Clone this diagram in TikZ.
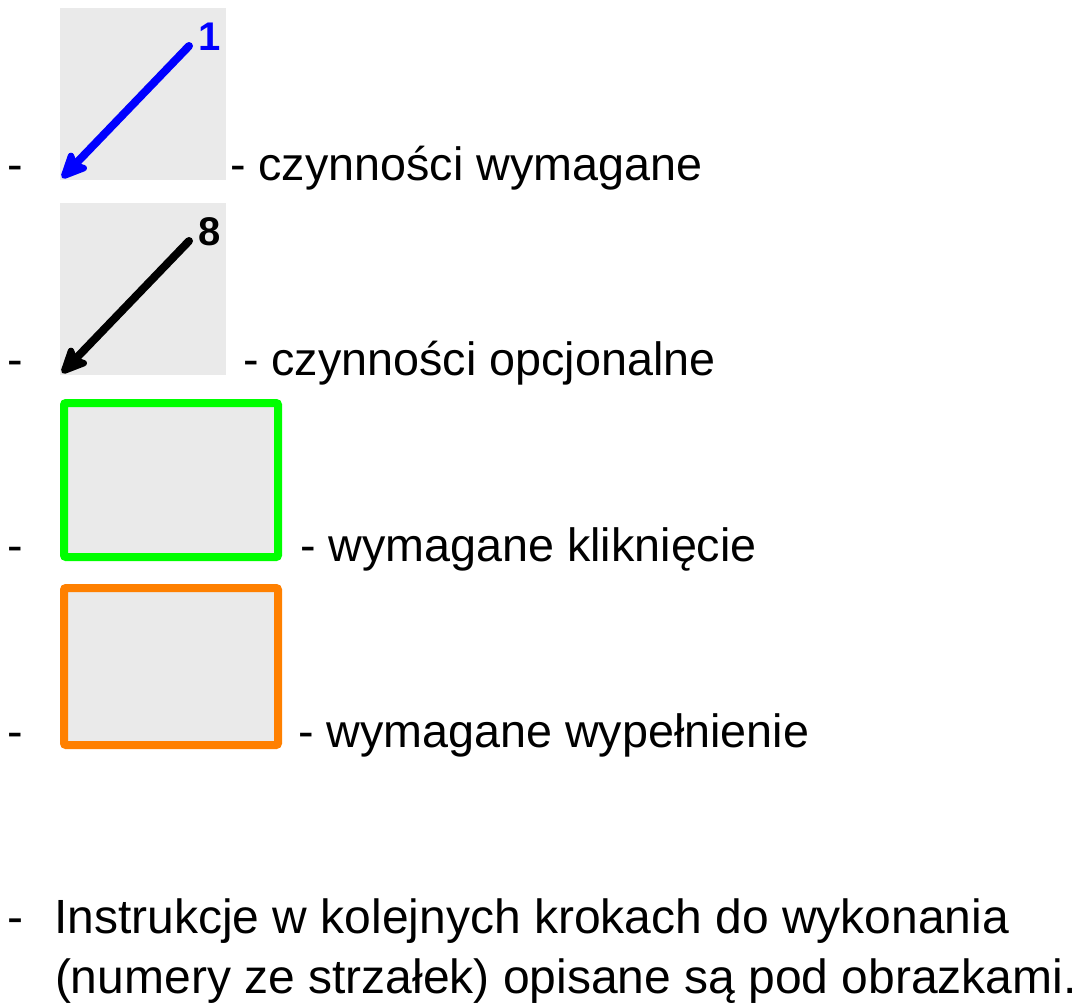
\documentclass[tikz,border=0pt]{standalone}
\usepackage{fontspec}
\setmainfont{Liberation Sans}
\usetikzlibrary{arrows.meta}
\definecolor{boxgray}{HTML}{EAEAEA}
\definecolor{cgreen}{HTML}{00FF00}
\definecolor{corange}{HTML}{FF8000}
\definecolor{cblue}{HTML}{0000FF}
\begin{document}
\begin{tikzpicture}[x=1pt,y=-1pt,
  txt/.style={anchor=base west,inner sep=0pt,outer sep=0pt,font=\fontsize{46.7}{60}\selectfont},
  btxt/.style={anchor=base west,inner sep=0pt,outer sep=0pt,font=\fontsize{48}{61}\selectfont},
  num/.style={inner sep=0pt,outer sep=0pt,font=\fontsize{40}{42}\selectfont\bfseries},
  legarrow/.style={line width=8pt,line cap=round,-{Stealth[length=33pt,width=30pt,inset=7pt,round]}},
  framebox/.style={line width=8pt,rounded corners=2pt,fill=boxgray}]
\useasboundingbox (0,0) rectangle (1079,1007);
% item 1
\fill[boxgray] (60,8) rectangle (226,180);
\coordinate (a1s) at (189,46);
\coordinate (a1e) at (62,178);
\draw[legarrow,cblue] (a1s) -- (a1e);
\node[num,text=cblue] (n1) at (209.5,37) {1};
\node[txt] (d1) at (8,180) {-};
\node[txt] (t1) at (230,180) {- czynności wymagane};
% item 2
\fill[boxgray] (60,203) rectangle (226,375);
\coordinate (a2s) at (189,241);
\coordinate (a2e) at (62,373);
\draw[legarrow,black] (a2s) -- (a2e);
\node[num,text=black] (n8) at (210,232) {8};
\node[txt] (d2) at (8,375) {-};
\node[txt] (t2) at (243,375) {- czynności opcjonalne};
% item 3
\draw[framebox,draw=cgreen] (64,403) rectangle (278,557);
\node[txt] (d3) at (8,561) {-};
\node[txt] (t3) at (300,561) {- wymagane kliknięcie};
% item 4
\draw[framebox,draw=corange] (64,588) rectangle (278,745);
\node[txt] (d4) at (8,747) {-};
\node[txt] (t4) at (298,747) {- wymagane wypełnienie};
% bottom
\node[btxt] (d5) at (8,933) {-};
\node[btxt] (t5) at (54,933) {Instrukcje w kolejnych krokach do wykonania};
\node[btxt] (t6) at (55,993) {(numery ze strzałek) opisane są pod obrazkami.};
\end{tikzpicture}
\end{document}
